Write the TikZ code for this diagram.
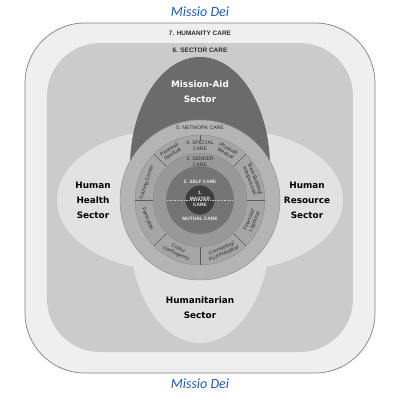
\documentclass[tikz,border=0pt]{standalone}
\usepackage{fontspec}
\setmainfont{Liberation Sans}
\newfontfamily\deifont{Carlito}
\newfontfamily\sectorfont{DejaVu Sans}
\definecolor{deiblue}{RGB}{31,90,190}
\definecolor{humanity}{HTML}{EFEFEF}
\definecolor{framegray}{HTML}{808080}
\definecolor{sectorgray}{HTML}{CBCBCB}
\definecolor{lightsector}{HTML}{E2E2E2}
\definecolor{missionaid}{HTML}{6B6B6B}
\definecolor{network}{HTML}{B4B4B4}
\definecolor{special}{HTML}{A6A6A6}
\definecolor{sender}{HTML}{999999}
\definecolor{selfcare}{HTML}{747474}
\definecolor{master}{HTML}{3E3E3E}
\definecolor{ringline}{HTML}{8C8C8C}
\definecolor{divider}{HTML}{5A5A5A}
\definecolor{labelgray}{HTML}{2E2E2E}
\begin{document}
\begin{tikzpicture}[scale=0.025,
  ring/.style={draw=ringline, line width=0.3pt},
  careline/.style={draw=divider, line width=0.4pt},
  outerlabel/.style={font=\bfseries\fontsize{4.6}{5.5}\selectfont, text=labelgray, inner sep=0pt},
  ringlabel/.style={font=\fontsize{3.6}{4.2}\selectfont, text=labelgray, align=center, inner sep=0pt},
  corelabel/.style={font=\bfseries\fontsize{3.4}{4}\selectfont, text=white!92!black, align=center, inner sep=0pt},
  carelabel/.style={font=\fontsize{3.7}{4}\selectfont, text=labelgray, align=center, inner sep=0pt},
  sectorlabel/.style={font=\sectorfont\bfseries\fontsize{6.3}{10.7}\selectfont, align=center, inner sep=0pt}]
\useasboundingbox (-200,-200) rectangle (200,200);
\node [font=\deifont\itshape\fontsize{10}{12}\selectfont, text=deiblue] (deitop) at (0,188) {Missio Dei};
\node [font=\deifont\itshape\fontsize{10}{12}\selectfont, text=deiblue] (deibottom) at (0,-184) {Missio Dei};
\draw [fill=humanity, draw=framegray, line width=0.5pt, rounded corners=1.5cm] (-175,-173) rectangle (175,177);
\fill [sectorgray, rounded corners=1.325cm] (-153,-152) rectangle (153,157);
\node [outerlabel] (humanitycare) at (0,167) {7. HUMANITY CARE};
\node [outerlabel] (sectorcare) at (0,150) {6. SECTOR CARE};
\fill [lightsector] (-33,0) ellipse (110 and 70);
\fill [lightsector] (33,0) ellipse (110 and 70);
\fill [lightsector] (0,-33) ellipse (70 and 110);
\fill [missionaid] (0,33) ellipse (70 and 110);
\node [sectorlabel, text=white] (missionaid) at (0,108) {Mission-Aid\\Sector};
\node [sectorlabel] (health) at (-107,0) {Human\\Health\\Sector};
\node [sectorlabel] (resource) at (107,0) {Human\\Resource\\Sector};
\node [sectorlabel] (humanitarian) at (0,-108) {Humanitarian\\Sector};
\draw [ring, fill=network] (0,0) circle (80);
\draw [ring, fill=special] (0,0) circle (65);
\draw [careline] (135:47) -- (135:65);
\draw [careline] (45:47) -- (45:65);
\draw [careline] (0:47) -- (0:65);
\draw [careline] (-45:47) -- (-45:65);
\draw [careline] (-90:47) -- (-90:65);
\draw [careline] (-135:47) -- (-135:65);
\draw [careline] (180:47) -- (180:65);
\draw [careline] (90:59) -- (90:65);
\draw [ring, fill=sender] (0,0) circle (47);
\draw [ring, fill=selfcare] (0,0) circle (34);
\draw [ring, fill=master] (0,0) circle (15);
\draw [white!80!black, line width=0.3pt, dash pattern=on 1pt off 0.7pt] (-33,0) -- (33,0);
\node [ringlabel] (networkcare) at (0,72) {5. NETWORK CARE};
\node [ringlabel] (specialcare) at (0,54) {4. SPECIAL\\CARE};
\node [ringlabel] (sendercare) at (0,38) {3. SENDER\\CARE};
\node [corelabel] (selfcare) at (0,18) {2. SELF CARE};
\node [corelabel] (mastercare) at (0,1) {1.\\MASTER\\CARE};
\node [corelabel] (mutualcare) at (0,-19) {MUTUAL CARE};
\node [carelabel, rotate=32] (pastoral) at (121:56) {Pastoral/\\Spiritual};
\node [carelabel, rotate=-29] (physical) at (61:56) {Physical/\\Medical};
\node [carelabel, rotate=-69] (teambuilding) at (21:56) {Team Building/\\Interpersonal};
\node [carelabel, rotate=68] (financial) at (-22:56) {Financial/\\Logistical};
\node [carelabel, rotate=24] (counseling) at (-66:56) {Counseling/\\Psychological};
\node [carelabel, rotate=-24] (crisis) at (-114:56) {Crisis/\\Contingency};
\node [carelabel, rotate=-70] (family) at (-160:56) {Family/MK};
\node [carelabel, rotate=72] (training) at (162:56) {Training Center};
\end{tikzpicture}
\end{document}
